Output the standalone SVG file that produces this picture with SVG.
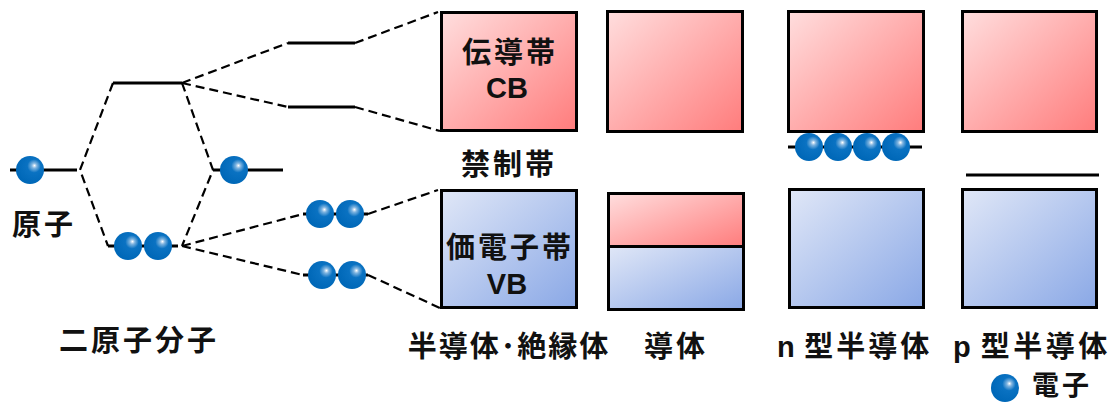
<svg xmlns="http://www.w3.org/2000/svg" width="1116" height="403" viewBox="0 0 1116 403">
<style>
.jp{font-family:"Noto Sans CJK JP","Liberation Sans",sans-serif;font-weight:bold;font-size:29px;fill:#111;letter-spacing:3px}
.en{font-family:"Liberation Sans",Arial,sans-serif;font-weight:bold;font-size:29px;fill:#111;letter-spacing:0}
.lvl{stroke:#000;stroke-width:3;fill:none}
.dash{stroke:#000;stroke-width:2.2;fill:none;stroke-dasharray:9 5}
.box{stroke:#000;stroke-width:3}
.cb{fill:url(#gCB)}
.vb{fill:url(#gVB)}
</style>
<defs>
<linearGradient id="gCB" x1="0" y1="0" x2="1" y2="1">
<stop offset="0" stop-color="#ffdede"/>
<stop offset="1" stop-color="#ff7c7c"/>
</linearGradient>
<linearGradient id="gVB" x1="0" y1="0" x2="1" y2="1">
<stop offset="0" stop-color="#e0e7f7"/>
<stop offset="1" stop-color="#8aa8e6"/>
</linearGradient>
<radialGradient id="gE" cx="0.62" cy="0.38" r="0.6" fx="0.66" fy="0.34">
<stop offset="0" stop-color="#ffffff"/>
<stop offset="0.15" stop-color="#7fb4e0"/>
<stop offset="0.4" stop-color="#0a72c2"/>
<stop offset="1" stop-color="#0068b8"/>
</radialGradient>
<symbol id="e" overflow="visible"><circle cx="0" cy="0" r="14" fill="url(#gE)"/></symbol>
</defs>

<g id="connectors">
<polyline class="dash" points="113,83 80,170 108,246"/>
<polyline class="dash" points="182,83 213,170 182,246"/>
<line class="dash" x1="182" y1="83" x2="288" y2="43"/>
<line class="dash" x1="182" y1="83" x2="288" y2="107"/>
<line class="dash" x1="182" y1="246" x2="303" y2="214"/>
<line class="dash" x1="182" y1="246" x2="303" y2="275"/>
<line class="dash" x1="355" y1="43" x2="438" y2="12"/>
<line class="dash" x1="355" y1="107" x2="440" y2="131"/>
<line class="dash" x1="368" y1="214" x2="438" y2="190"/>
<line class="dash" x1="368" y1="275" x2="440" y2="308"/>
</g>

<g id="atom-left">
<line class="lvl" x1="10" y1="170" x2="77" y2="170"/>
<use href="#e" x="30" y="170"/>
<text class="jp" x="44" y="235" text-anchor="middle">原子</text>
</g>
<g id="atom-right">
<line class="lvl" x1="213" y1="170" x2="283" y2="170"/>
<use href="#e" x="234" y="170"/>
</g>
<g id="mo-upper">
<line class="lvl" x1="113" y1="83" x2="182" y2="83"/>
</g>
<g id="mo-lower">
<line class="lvl" x1="108" y1="246" x2="178" y2="246"/>
<use href="#e" x="128" y="246"/>
<use href="#e" x="158" y="246"/>
</g>
<text id="label-molecule" class="jp" x="139" y="351" text-anchor="middle">二原子分子</text>

<g id="lvl-cb1"><line class="lvl" x1="288" y1="43" x2="355" y2="43"/></g>
<g id="lvl-cb2"><line class="lvl" x1="288" y1="107" x2="355" y2="107"/></g>
<g id="lvl-vb1">
<line class="lvl" x1="303" y1="214" x2="368" y2="214"/>
<use href="#e" x="320" y="214"/>
<use href="#e" x="350" y="214"/>
</g>
<g id="lvl-vb2">
<line class="lvl" x1="303" y1="275" x2="368" y2="275"/>
<use href="#e" x="322" y="275"/>
<use href="#e" x="352" y="275"/>
</g>

<g id="semi-cb">
<rect class="box cb" x="441.5" y="12.5" width="135" height="118"/>
<text class="jp" x="510" y="63" text-anchor="middle">伝導帯</text>
<text class="en" x="507" y="98" text-anchor="middle">CB</text>
</g>
<text id="label-gap" class="jp" x="509" y="175" text-anchor="middle">禁制帯</text>
<g id="semi-vb">
<rect class="box vb" x="441.5" y="190.5" width="135" height="117"/>
<text class="jp" x="510" y="258" text-anchor="middle">価電子帯</text>
<text class="en" x="507" y="294" text-anchor="middle">VB</text>
</g>
<text id="label-semi" class="jp" x="509" y="357" text-anchor="middle" style="letter-spacing:2px">半導体･絶縁体</text>

<g id="metal-cb"><rect class="box cb" x="607.5" y="11.5" width="135" height="120"/></g>
<g id="metal-band">
<rect class="box cb" x="608.5" y="193.5" width="135" height="53"/>
<rect class="box vb" x="608.5" y="246.5" width="135" height="63"/>
</g>
<text id="label-metal" class="jp" x="676" y="357" text-anchor="middle">導体</text>

<g id="n-cb"><rect class="box cb" x="788.5" y="11.5" width="135" height="120"/></g>
<g id="n-donor">
<line class="lvl" x1="788" y1="147" x2="922" y2="147"/>
<use href="#e" x="809" y="147"/>
<use href="#e" x="838" y="147"/>
<use href="#e" x="867" y="147"/>
<use href="#e" x="896" y="147"/>
</g>
<g id="n-vb"><rect class="box vb" x="789.5" y="189.5" width="134" height="118"/></g>
<text id="label-n" class="jp" x="777" y="357"><tspan class="en">n</tspan> 型半導体</text>

<g id="p-cb"><rect class="box cb" x="962.5" y="11.5" width="134" height="120"/></g>
<g id="p-acceptor"><line class="lvl" x1="966" y1="175" x2="1099" y2="175"/></g>
<g id="p-vb"><rect class="box vb" x="962.5" y="189.5" width="134" height="118"/></g>
<text id="label-p" class="jp" x="953" y="357" style="letter-spacing:3.5px"><tspan class="en">p</tspan> 型半導体</text>

<g id="legend">
<use href="#e" x="1005" y="388"/>
<text class="jp" x="1032" y="395" style="font-size:27px">電子</text>
</g>
</svg>
